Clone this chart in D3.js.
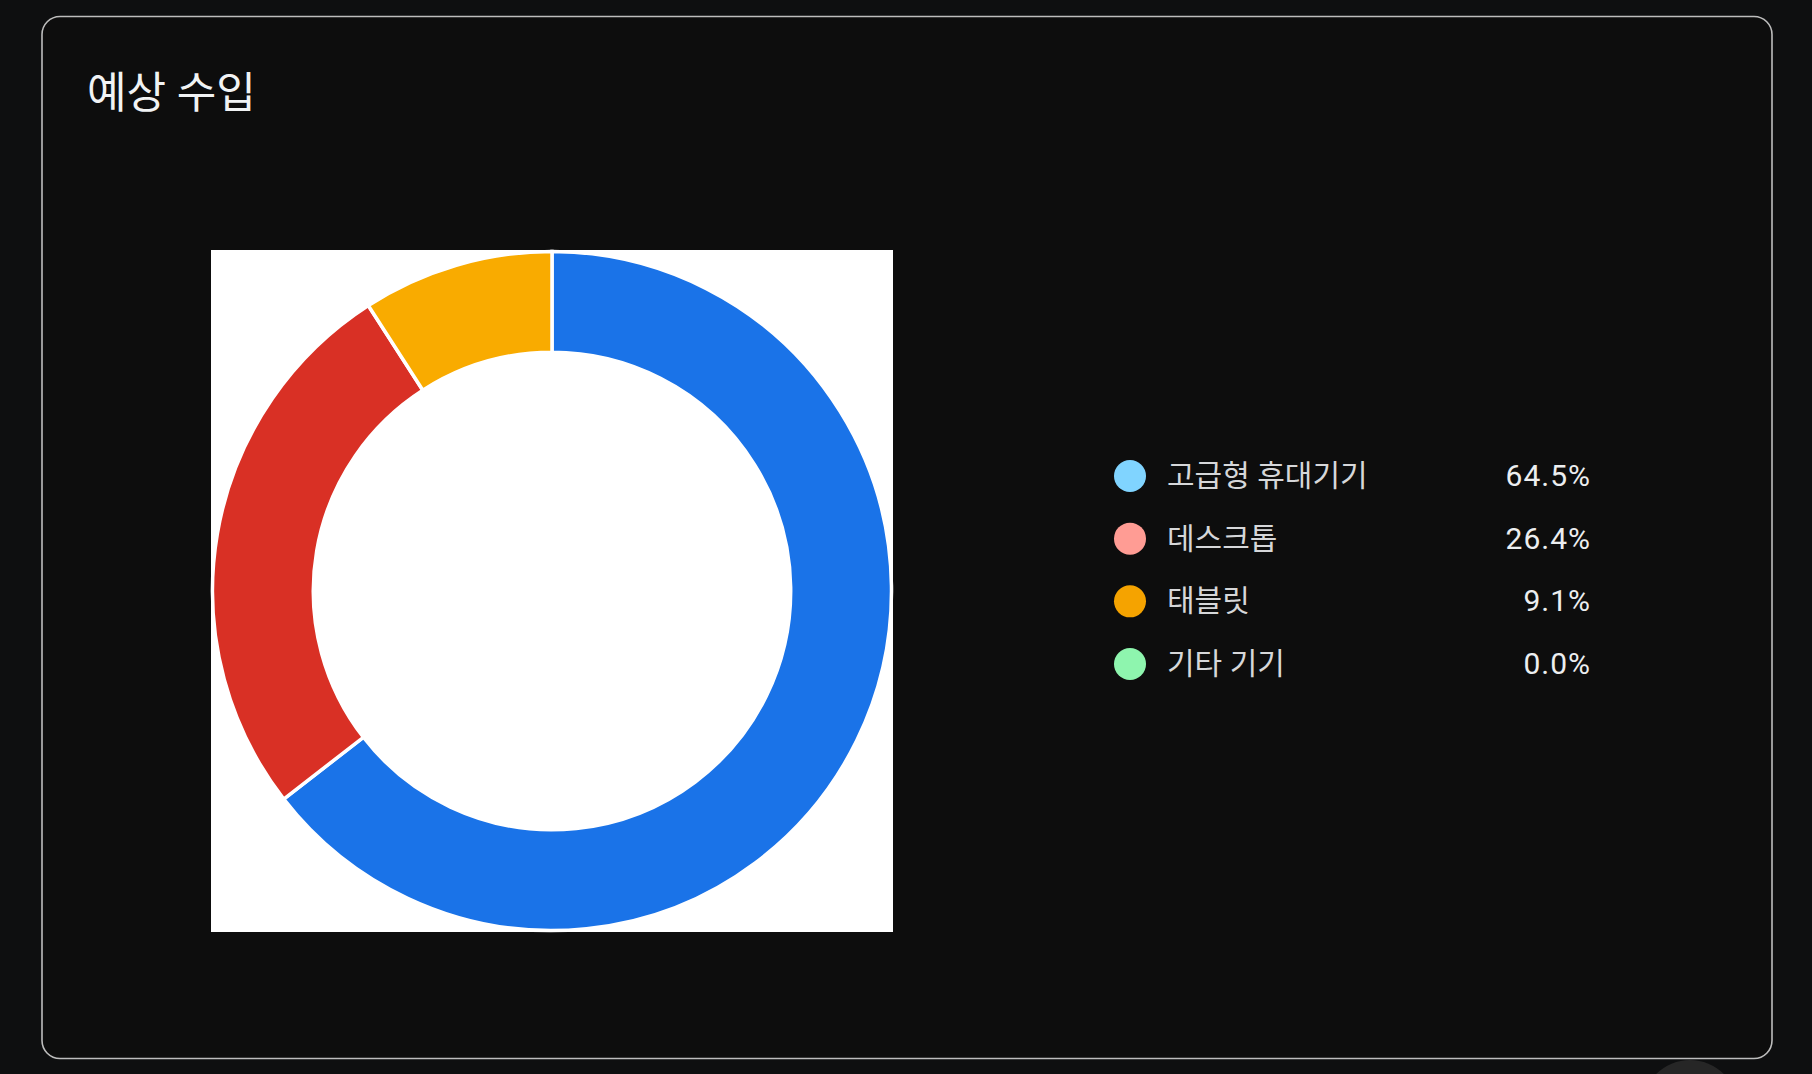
<!DOCTYPE html>
<html>
<head>
<meta charset="utf-8">
<script src="https://cdn.jsdelivr.net/npm/d3@7/dist/d3.min.js"></script>
<style>
  html, body { margin: 0; padding: 0; background: #0e0f10; }
  svg { display: block; }
  text { font-family: Roboto, "Noto Sans CJK KR", "Noto Sans", sans-serif; }
</style>
</head>
<body>
<svg id="chart" width="1812" height="1074"></svg>
<script>
const title = "예상 수입";
const categories = ["고급형 휴대기기", "데스크톱", "태블릿", "기타 기기"];
const values = [64.5, 26.4, 9.1, 0.0];
const sliceColors = ["#1a73e8", "#d93025", "#f9ab00", "#34a853"];
const legendColors = ["#80d4ff", "#ff9c94", "#f5a300", "#8ef5ae"];

const svg = d3.select("#chart");

// faint floating element at bottom
svg.append("circle").attr("cx", 1690).attr("cy", 1108).attr("r", 48).attr("fill", "#262626");

// card
svg.append("rect")
  .attr("x", 42).attr("y", 16.5).attr("width", 1730).attr("height", 1042)
  .attr("rx", 18).attr("ry", 18)
  .attr("fill", "#0d0d0d").attr("stroke", "#bdbdbd").attr("stroke-width", 1.6);

svg.append("text")
  .attr("x", 87).attr("y", 108)
  .attr("fill", "#f1f3f4").attr("font-size", 43)
  .text(title);

// chart area
const box = { x: 211, y: 250, size: 682 };
svg.append("rect").attr("x", box.x).attr("y", box.y)
  .attr("width", box.size).attr("height", box.size).attr("fill", "#ffffff");

const cx = box.x + box.size / 2, cy = box.y + box.size / 2;
const outerR = box.size / 2 - 1.5, innerR = box.size / 2 * 0.7;

const pie = d3.pie().sort(null).value(d => d);
const arc = d3.arc().innerRadius(innerR).outerRadius(outerR);
const g = svg.append("g").attr("transform", `translate(${cx},${cy})`);
g.selectAll("path").data(pie(values).filter(d => d.value > 0)).join("path")
  .attr("d", arc)
  .attr("fill", d => sliceColors[d.index])
  .attr("stroke", "#ffffff").attr("stroke-width", 3.5).attr("stroke-linejoin", "miter");

// legend
const y = d3.scalePoint().domain(categories).range([476, 664]);
const fmt = d3.format(".1f");
const lg = svg.append("g");
const rows = lg.selectAll("g").data(categories).join("g")
  .attr("transform", d => `translate(0,${y(d)})`);
rows.append("circle").attr("cx", 1130).attr("cy", 0).attr("r", 16)
  .attr("fill", (d, i) => legendColors[i]);
rows.append("text").attr("x", 1167).attr("y", 10)
  .attr("fill", "#d6d7d9").attr("font-size", 30)
  .text(d => d);
rows.append("text").attr("x", 1591).attr("y", 10)
  .attr("text-anchor", "end")
  .attr("fill", "#eceef0").attr("font-size", 30)
  .attr("letter-spacing", 1)
  .text((d, i) => fmt(values[i]) + "%");
</script>
</body>
</html>
